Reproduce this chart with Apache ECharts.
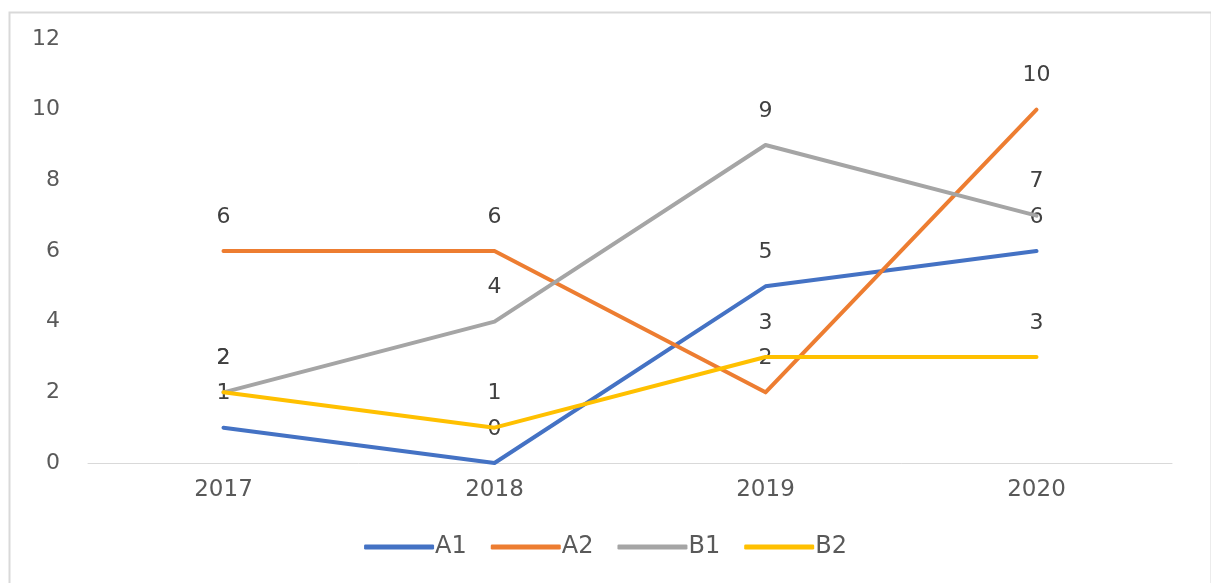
<!DOCTYPE html>
<html>
<head>
<meta charset="utf-8">
<script src="https://cdn.jsdelivr.net/npm/echarts@6/dist/echarts.min.js"></script>
<style>html,body{margin:0;padding:0;background:#fff}#c{width:1211px;height:583px}</style>
</head>
<body>
<div id="c"></div>
<script>
const categories = ['2017', '2018', '2019', '2020'];
const A1 = [1, 0, 5, 6];
const A2 = [6, 6, 2, 10];
const B1 = [2, 4, 9, 7];
const B2 = [2, 1, 3, 3];
const seriesNames = ['A1', 'A2', 'B1', 'B2'];
const seriesData = [A1, A2, B1, B2];
const colors = ['#4472C4', '#ED7D31', '#A5A5A5', '#FFC000'];

const font = 'DejaVu Sans, Liberation Sans, sans-serif';
const chart = echarts.init(document.getElementById('c'), null, {renderer: 'canvas'});
chart.setOption({
  animation: false,
  backgroundColor: '#fff',
  graphic: [{
    type: 'rect', left: 7, top: 10, shape: {width: 1202, height: 590},
    style: {fill: 'none', stroke: '#d9d9d9', lineWidth: 2}, z: -1
  }],
  grid: {left: 88, right: 39, top: 39, bottom: 120},
  legend: {
    top: 530, left: 'center',
    itemWidth: 70, itemHeight: 5, itemGap: 24,
    icon: 'roundRect',
    textStyle: {fontFamily: font, fontSize: 24, color: '#595959', padding: [0, 0, 0, -4]},
    data: seriesNames
  },
  xAxis: {
    type: 'category', data: categories,
    axisLine: {lineStyle: {color: '#d9d9d9', width: 1}},
    axisTick: {show: false},
    axisLabel: {fontFamily: font, fontSize: 23, color: '#595959', margin: 16}
  },
  yAxis: {
    type: 'value', min: 0, max: 12, interval: 2,
    axisLine: {show: false}, axisTick: {show: false},
    splitLine: {show: false},
    axisLabel: {fontFamily: font, fontSize: 22, color: '#595959', margin: 28, padding: [0, 0, 5, 0]}
  },
  series: seriesNames.map((n, i) => ({
    name: n, type: 'line', data: seriesData[i],
    color: colors[i],
    showSymbol: true, symbol: 'circle', symbolSize: 0.01,
    lineStyle: {width: 4, color: colors[i], cap: 'round', join: 'round'},
    label: {show: true, position: 'top', distance: 23, fontFamily: font, fontSize: 22, color: '#404040'},
    labelLayout: {hideOverlap: false},
    z: 2 + i
  }))
});
</script>
</body>
</html>
